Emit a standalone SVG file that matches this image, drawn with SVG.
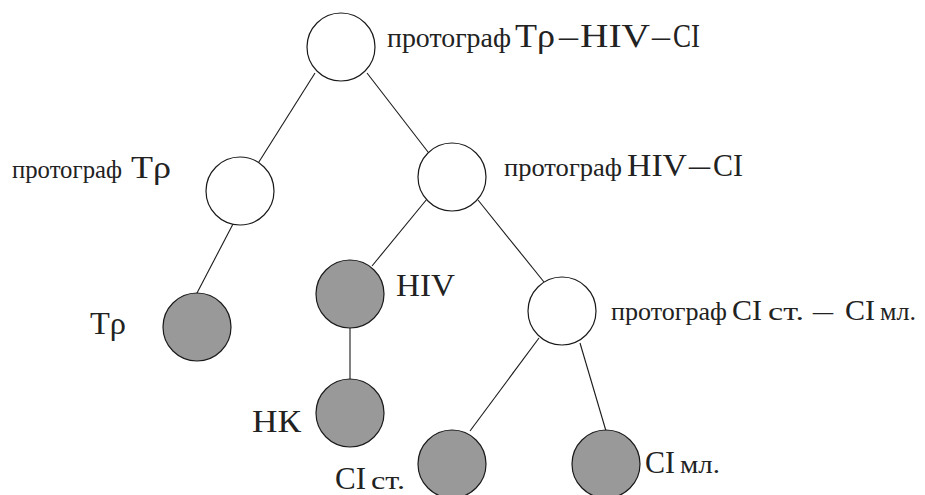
<svg xmlns="http://www.w3.org/2000/svg" width="925" height="495" viewBox="0 0 925 495">
<style>
.n{fill:#ffffff;stroke:#1a1a1a;stroke-width:1.2}
.g{fill:#999999;stroke:#1a1a1a;stroke-width:1.2}
.e{stroke:#1a1a1a;stroke-width:1.1;fill:none}
.t{font-family:'Liberation Serif','DejaVu Serif','Noto Serif',serif;fill:#222222}
.s{font-size:25px}
.b{font-size:32px}
</style>
<rect width="925" height="495" fill="#ffffff"/>
<g id="edges">
<line class="e" x1="315" y1="73" x2="257" y2="165"/>
<line class="e" x1="367" y1="73" x2="428" y2="152"/>
<line class="e" x1="233" y1="224" x2="197" y2="293"/>
<line class="e" x1="427" y1="199" x2="372" y2="266"/>
<line class="e" x1="478" y1="200" x2="544" y2="282"/>
<line class="e" x1="350" y1="328" x2="350" y2="379"/>
<line class="e" x1="539" y1="338" x2="470" y2="431"/>
<line class="e" x1="580" y1="343" x2="606" y2="431"/>
</g>
<g id="root"><circle class="n" cx="341" cy="47" r="34"/>
<text class="t" y="47"><tspan class="s" x="387" style="font-size:27px" textLength="124" lengthAdjust="spacingAndGlyphs">протограф</tspan><tspan class="b" x="515" style="font-size:33px" textLength="40" lengthAdjust="spacingAndGlyphs">Tρ</tspan><tspan class="b" x="559" textLength="19" lengthAdjust="spacingAndGlyphs">–</tspan><tspan class="b" x="580" style="font-size:33px" textLength="70" lengthAdjust="spacingAndGlyphs">HIV</tspan><tspan class="b" x="652" textLength="18" lengthAdjust="spacingAndGlyphs">–</tspan><tspan class="b" x="673" style="font-size:33px" textLength="27" lengthAdjust="spacingAndGlyphs">CI</tspan></text></g>
<g id="proto-tr"><circle class="n" cx="240" cy="191" r="34"/>
<text class="t" y="178"><tspan class="s" x="12" textLength="110" lengthAdjust="spacingAndGlyphs">протограф</tspan><tspan class="b" x="131" textLength="40" lengthAdjust="spacingAndGlyphs">Tρ</tspan></text></g>
<g id="proto-hiv-ci"><circle class="n" cx="452" cy="177" r="34"/>
<text class="t" y="176"><tspan class="s" x="504" textLength="118" lengthAdjust="spacingAndGlyphs">протограф</tspan><tspan class="b" x="627" textLength="60" lengthAdjust="spacingAndGlyphs">HIV</tspan><tspan class="b" x="689" textLength="21" lengthAdjust="spacingAndGlyphs">–</tspan><tspan class="b" x="713" textLength="30" lengthAdjust="spacingAndGlyphs">CI</tspan></text></g>
<g id="tr"><circle class="g" cx="197" cy="327" r="34"/>
<text class="t b" x="90" y="334" textLength="36" lengthAdjust="spacingAndGlyphs">Tρ</text></g>
<g id="hiv"><circle class="g" cx="350" cy="294" r="34"/>
<text class="t b" x="396" y="296" textLength="59" lengthAdjust="spacingAndGlyphs">HIV</text></g>
<g id="proto-ci"><circle class="n" cx="562" cy="311" r="34"/>
<text class="t" y="320"><tspan class="s" x="611" textLength="116" lengthAdjust="spacingAndGlyphs">протограф</tspan><tspan class="b" x="732" style="font-size:30px" textLength="30" lengthAdjust="spacingAndGlyphs">CI</tspan><tspan class="s" x="768" textLength="36" lengthAdjust="spacingAndGlyphs">ст.</tspan><tspan class="s" x="813" textLength="20" lengthAdjust="spacingAndGlyphs">–</tspan><tspan class="b" x="845" style="font-size:30px" textLength="30" lengthAdjust="spacingAndGlyphs">CI</tspan><tspan class="s" x="880" textLength="36" lengthAdjust="spacingAndGlyphs">мл.</tspan></text></g>
<g id="nk"><circle class="g" cx="350" cy="413" r="34"/>
<text class="t b" x="252" y="432" textLength="49" lengthAdjust="spacingAndGlyphs">НК</text></g>
<g id="ci-st"><circle class="g" cx="452" cy="464" r="34"/>
<text class="t" y="489"><tspan class="b" x="335" textLength="31" lengthAdjust="spacingAndGlyphs">CI</tspan><tspan class="s" x="371" textLength="34" lengthAdjust="spacingAndGlyphs">ст.</tspan></text></g>
<g id="ci-ml"><circle class="g" cx="606" cy="464" r="34"/>
<text class="t" y="473"><tspan class="b" x="645" textLength="30" lengthAdjust="spacingAndGlyphs">CI</tspan><tspan class="s" x="680" textLength="40" lengthAdjust="spacingAndGlyphs">мл.</tspan></text></g>
</svg>
